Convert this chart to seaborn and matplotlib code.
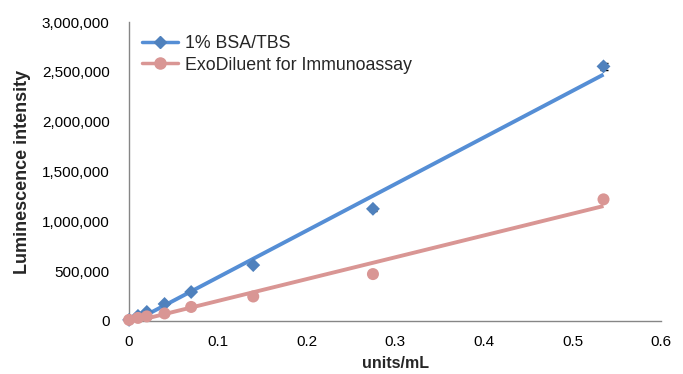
import numpy as np
import pandas as pd
import seaborn as sns
import matplotlib.pyplot as plt
from matplotlib.lines import Line2D
from matplotlib.ticker import FuncFormatter

# concentrations (units/mL)
conc = [0, 0.01, 0.02, 0.04, 0.07, 0.14, 0.275, 0.535]
# luminescence readings
bsa = [10000, 50000, 90000, 170000, 290000, 560000, 1125000, 2555000]
bsa_err = [0, 0, 0, 0, 0, 0, 20000, 35000]
exo = [10000, 30000, 45000, 75000, 140000, 245000, 470000, 1220000]
exo_err = [0, 0, 0, 0, 0, 0, 0, 0]

labels = ['1% BSA/TBS', 'ExoDiluent for Immunoassay']
line_cols = ['#558ED5', '#D99694']
mark_cols = ['#4F81BD', '#D99694']
markers = ['D', 'o']

sns.set_style('white')
plt.rcParams['font.family'] = ['Liberation Sans', 'DejaVu Sans']

df = pd.DataFrame({'conc': conc * 2,
                   'lum': bsa + exo,
                   'err': bsa_err + exo_err,
                   'series': [labels[0]] * len(conc) + [labels[1]] * len(conc)})

fig = plt.figure(figsize=(6.83, 3.74), dpi=100)
ax = fig.add_axes([0.189, 0.142, 0.779, 0.799])

for i, name in enumerate(labels):
    sub = df[df['series'] == name]
    # linear trendline
    sns.regplot(data=sub, x='conc', y='lum', ax=ax, scatter=False, ci=None,
                line_kws={'color': line_cols[i], 'lw': 2.8, 'solid_capstyle': 'butt'})
    ax.errorbar(sub['conc'], sub['lum'], yerr=sub['err'], fmt='none',
                ecolor='black', elinewidth=1, capsize=3, zorder=3)
    sns.scatterplot(data=sub, x='conc', y='lum', ax=ax, marker=markers[i],
                    color=mark_cols[i], s=75 if i else 50, edgecolor='none',
                    zorder=4, clip_on=False)

ax.set_xlim(0, 0.6)
ax.set_ylim(0, 3000000)
ax.set_xticks(np.arange(0, 0.61, 0.1))
ax.set_xticklabels(['0', '0.1', '0.2', '0.3', '0.4', '0.5', '0.6'])
ax.set_yticks(np.arange(0, 3000001, 500000))
ax.yaxis.set_major_formatter(FuncFormatter(lambda v, p: f'{int(v):,}'))

for s in ['top', 'right']:
    ax.spines[s].set_visible(False)
for s in ['left', 'bottom']:
    ax.spines[s].set_color('#868686')
    ax.spines[s].set_linewidth(1)
ax.tick_params(axis='both', direction='out', length=4, width=1, color='#868686',
               labelsize=11, labelcolor='black')
ax.tick_params(axis='y', pad=10)
ax.tick_params(axis='x', pad=6)

ax.set_xlabel('units/mL', fontsize=11.5, fontweight='bold', labelpad=5)
ax.set_ylabel('Luminescence intensity', fontsize=13, fontweight='bold', labelpad=8)

handles = [Line2D([0], [0], color=line_cols[i], lw=2.5, marker=markers[i],
                  markerfacecolor=mark_cols[i], markeredgecolor=mark_cols[i],
                  markersize=6 if i == 0 else 8) for i in range(2)]
ax.legend(handles, labels, loc='upper left', bbox_to_anchor=(-0.005, 1.01),
          frameon=False, fontsize=12.8, handlelength=2.0, handletextpad=0.4,
          labelspacing=0.25)

fig.savefig('out.png', dpi=100)
